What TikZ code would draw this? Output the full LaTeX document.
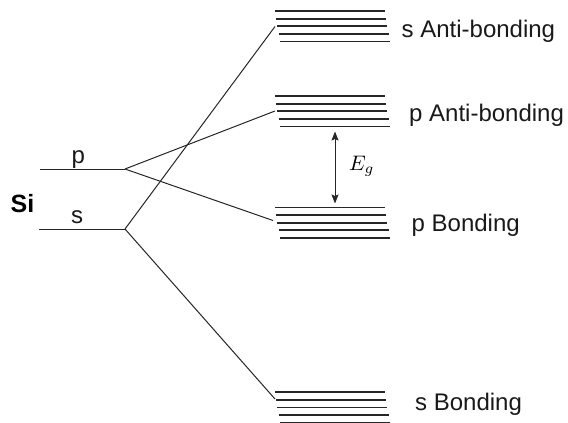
\documentclass[tikz,border=0pt]{standalone}
\usepackage{graphicx}
\usepackage{fontspec}
\setmainfont{Liberation Sans}
\usetikzlibrary{arrows.meta}

\begin{document}
\begin{tikzpicture}[x=1pt, y=-1pt,
  level/.style={line width=1.8pt, draw=black!85},
  bond/.style={line width=1pt, draw=black!85},
  gap/.style={line width=1pt, draw=black!85, {Stealth[length=9pt,width=7pt,inset=1.5pt]}-{Stealth[length=9pt,width=7pt,inset=1.5pt]}},
  lbl/.style={font=\fontsize{24}{28}\selectfont, anchor=base west, inner sep=0pt, text=black!90},
  atom/.style={font=\fontsize{25}{30}\selectfont\bfseries, anchor=base west, inner sep=0pt},
]
\useasboundingbox (0,0) rectangle (568,423);

% stacks of five closely spaced band levels, each shifted slightly right
\foreach \y in {11, 96, 207.5, 392.3}
  \foreach \k in {0,...,4}
    \draw[level] (275+1.2*\k, \y+7.6*\k) -- (385+1.2*\k, \y+7.6*\k);

% atomic levels of Si
\coordinate (pL) at (40,169);
\coordinate (pR) at (125,169);
\coordinate (sL) at (39,229);
\coordinate (sR) at (125,229);
\draw[bond] (pL) -- (pR);
\draw[bond] (sL) -- (sR);

% band attachment points
\coordinate (sAB) at (275,26.5);
\coordinate (pAB) at (275,111);
\coordinate (pB)  at (273,220.5);
\coordinate (sB)  at (275,399);

\draw[bond] (pR) -- (pAB);
\draw[bond] (pR) -- (pB);
\draw[bond] (sR) -- (sAB);
\draw[bond] (sR) -- (sB);

% band gap
\coordinate (gTop) at (335,131.5);
\coordinate (gBot) at (335,203.5);
\draw[gap] (gTop) -- (gBot);
\node[anchor=base west, inner sep=0pt] (eg) at (349,170) {\scalebox{2.1}{$E_g$}};

% labels
\node[atom] (si) at (10.5,212.3) {Si};
\node[lbl] (plab) at (71.5,163) {p};
\node[lbl] (slab) at (71,223) {s};
\node[lbl] (sABl) at (401.5,37.5) {s Anti-bonding};
\node[lbl] (pABl) at (409,121) {p Anti-bonding};
\node[lbl] (pBl)  at (411.5,231.5) {p Bonding};
\node[lbl] (sBl)  at (415,410.5) {s Bonding};
\end{tikzpicture}
\end{document}
